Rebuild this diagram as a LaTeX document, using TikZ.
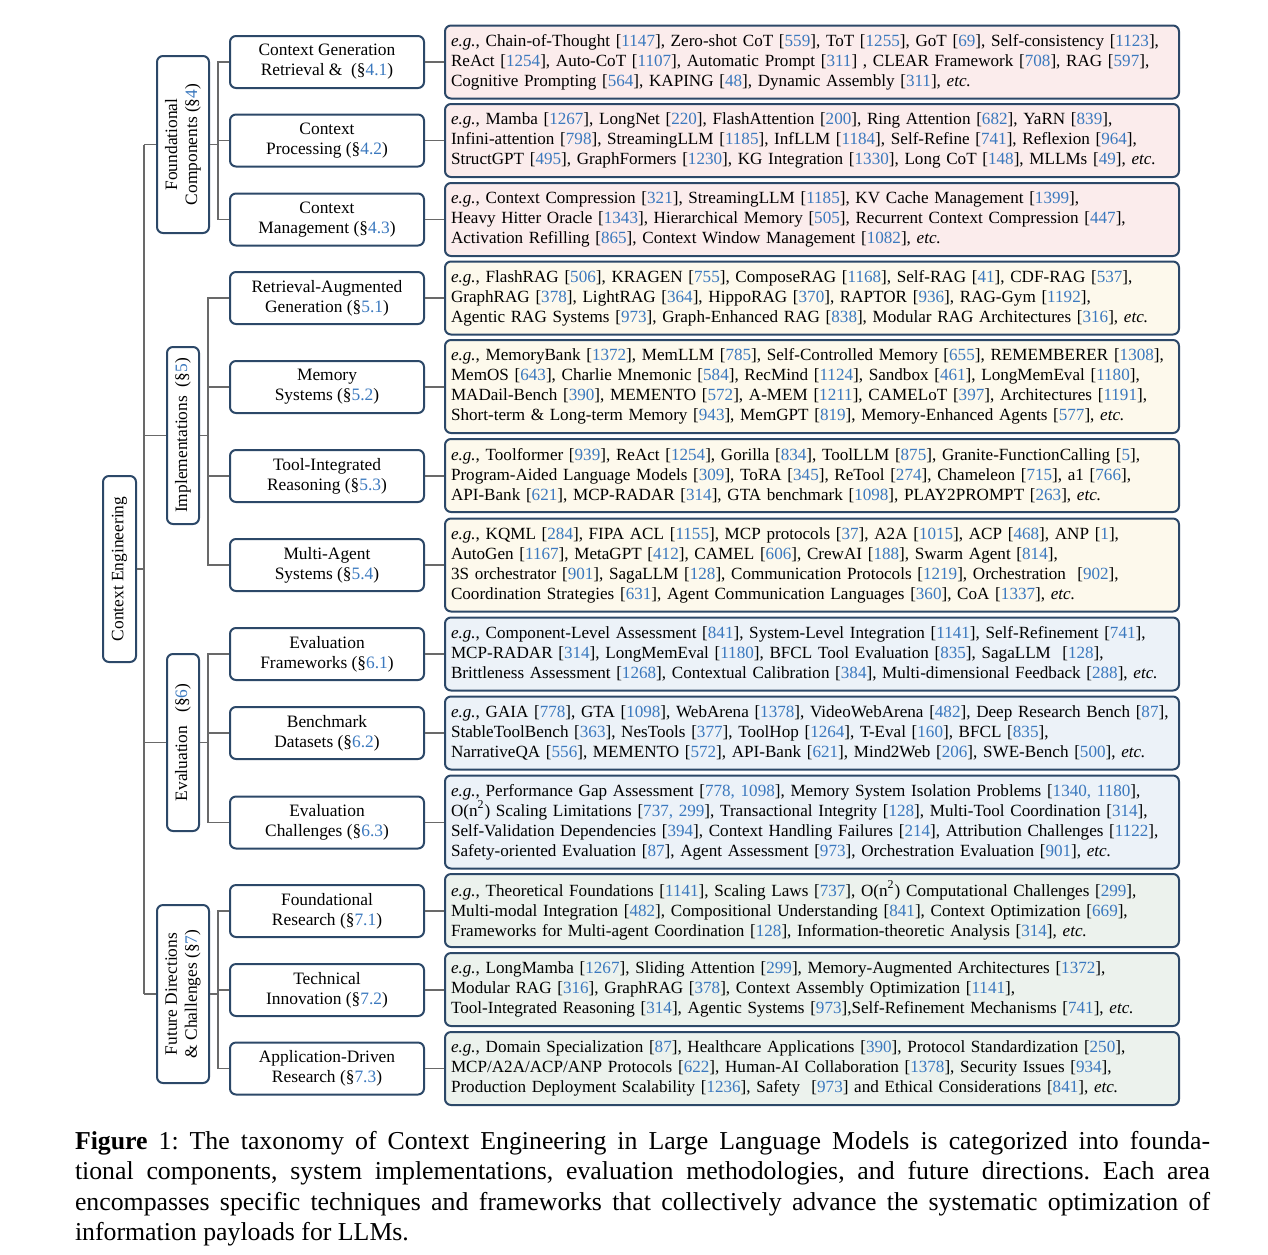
\documentclass[tikz,border=0pt]{standalone}
\usepackage{fontspec}
\setmainfont{Liberation Serif}

\definecolor{boxblue}{RGB}{44,72,104}
\definecolor{refblue}{RGB}{58,120,190}
\definecolor{linegray}{RGB}{105,105,105}
\definecolor{fillpink}{RGB}{251,236,236}
\definecolor{fillcream}{RGB}{253,249,236}
\definecolor{fillblue}{RGB}{236,242,248}
\definecolor{fillgreen}{RGB}{236,242,237}

\newcommand{\rf}[1]{[\textcolor{refblue}{#1}]}
\newcommand{\sref}[1]{(§\textcolor{refblue}{#1})}
\newcommand{\eg}{\textit{e.g.}, }
\newcommand{\etc}{\textit{etc.}}

\begin{document}
\begin{tikzpicture}[x=0.5pt, y=-0.5pt, line width=1pt,
                    txt/.style={font=\fontsize{8.7}{10}\selectfont},
                    box/.style={draw=boxblue, line width=1pt, rounded corners=3pt, fill=white, inner sep=0pt, txt},
                    cat/.style={box, rotate=90, align=center},
                    sub/.style={box, minimum width=97pt, minimum height=26pt, align=center},
                    leaf/.style={box, font=\fontsize{8.55}{10}\selectfont, text width=361pt, inner xsep=3pt,
                                 minimum height=36.5pt, align=left},
                    leaffour/.style={leaf, minimum height=46.5pt},
                    conn/.style={draw=linegray, line width=0.8pt}]

% full original canvas, caption included
\useasboundingbox (0,0) rectangle (1268,1254);

% ---- root ----
\node[cat, minimum width=93pt, minimum height=16.5pt] (root) at (119.5,569) {Context Engineering};

% ---- level 1 (rotated: north = visual left, south = visual right) ----
\node[cat, minimum width=88.5pt, minimum height=26pt] (found) at (183,144.5)
  {Foundational\\Components \sref{4}};
\node[cat, minimum width=88.5pt, minimum height=16pt] (impl) at (183,435.5)
  {Implementations~~\sref{5}};
\node[cat, minimum width=88.5pt, minimum height=16pt] (evalu) at (183,742.5)
  {Evaluation~~~\sref{6}};
\node[cat, minimum width=89pt, minimum height=26pt] (future) at (183,994)
  {Future Directions\\\& Challenges \sref{7}};

% ---- level 2 ----
\node[sub] (g41) at (327,62)   {Context Generation\\Retrieval \&~~\sref{4.1}};
\node[sub] (g42) at (327,140.5) {Context\\Processing~\sref{4.2}};
\node[sub] (g43) at (327,219.5) {Context\\Management~\sref{4.3}};
\node[sub] (g51) at (327,298)  {Retrieval-Augmented\\Generation~\sref{5.1}};
\node[sub] (g52) at (327,387)  {Memory\\Systems~\sref{5.2}};
\node[sub] (g53) at (327,476)  {Tool-Integrated\\Reasoning~\sref{5.3}};
\node[sub] (g54) at (327,565)  {Multi-Agent\\Systems~\sref{5.4}};
\node[sub] (g61) at (327,654)  {Evaluation\\Frameworks~\sref{6.1}};
\node[sub] (g62) at (327,733)  {Benchmark\\Datasets~\sref{6.2}};
\node[sub] (g63) at (327,822.5) {Evaluation\\Challenges~\sref{6.3}};
\node[sub] (g71) at (327,911)  {Foundational\\Research~\sref{7.1}};
\node[sub] (g72) at (327,990)  {Technical\\Innovation~\sref{7.2}};
\node[sub] (g73) at (327,1068.5) {Application-Driven\\Research~\sref{7.3}};

% ---- leaves: foundational components ----
\node[leaf, fill=fillpink] (l41) at (812,62) {\eg Chain-of-Thought \rf{1147}, Zero-shot CoT \rf{559}, ToT \rf{1255}, GoT \rf{69}, Self-consistency \rf{1123},\\
ReAct \rf{1254}, Auto-CoT \rf{1107}, Automatic Prompt \rf{311} , CLEAR Framework \rf{708}, RAG \rf{597},\\
Cognitive Prompting \rf{564}, KAPING \rf{48}, Dynamic Assembly \rf{311}, \etc};
\node[leaf, fill=fillpink] (l42) at (812,140.5) {\eg Mamba \rf{1267}, LongNet \rf{220}, FlashAttention \rf{200}, Ring Attention \rf{682}, YaRN \rf{839},\\
Infini-attention \rf{798}, StreamingLLM \rf{1185}, InfLLM \rf{1184}, Self-Refine \rf{741}, Reflexion \rf{964},\\
StructGPT \rf{495}, GraphFormers \rf{1230}, KG Integration \rf{1330}, Long CoT \rf{148}, MLLMs \rf{49}, \etc};
\node[leaf, fill=fillpink] (l43) at (812,219.5) {\eg Context Compression \rf{321}, StreamingLLM \rf{1185}, KV Cache Management \rf{1399},\\
Heavy Hitter Oracle \rf{1343}, Hierarchical Memory \rf{505}, Recurrent Context Compression \rf{447},\\
Activation Refilling \rf{865}, Context Window Management \rf{1082}, \etc};

% ---- leaves: implementations ----
\node[leaf, fill=fillcream] (l51) at (812,298) {\eg FlashRAG \rf{506}, KRAGEN \rf{755}, ComposeRAG \rf{1168}, Self-RAG \rf{41}, CDF-RAG \rf{537},\\
GraphRAG \rf{378}, LightRAG \rf{364}, HippoRAG \rf{370}, RAPTOR \rf{936}, RAG-Gym \rf{1192},\\
Agentic RAG Systems \rf{973}, Graph-Enhanced RAG \rf{838}, Modular RAG Architectures \rf{316}, \etc};
\node[leaffour, fill=fillcream] (l52) at (812,386.5) {\eg MemoryBank \rf{1372}, MemLLM \rf{785}, Self-Controlled Memory \rf{655}, REMEMBERER \rf{1308},\\
MemOS \rf{643}, Charlie Mnemonic \rf{584}, RecMind \rf{1124}, Sandbox \rf{461}, LongMemEval \rf{1180},\\
MADail-Bench \rf{390}, MEMENTO \rf{572}, A-MEM \rf{1211}, CAMELoT \rf{397}, Architectures \rf{1191},\\
Short-term \& Long-term Memory \rf{943}, MemGPT \rf{819}, Memory-Enhanced Agents \rf{577}, \etc};
\node[leaf, fill=fillcream] (l53) at (812,475.5) {\eg Toolformer \rf{939}, ReAct \rf{1254}, Gorilla \rf{834}, ToolLLM \rf{875}, Granite-FunctionCalling \rf{5},\\
Program-Aided Language Models \rf{309}, ToRA \rf{345}, ReTool \rf{274}, Chameleon \rf{715}, a1 \rf{766},\\
API-Bank \rf{621}, MCP-RADAR \rf{314}, GTA benchmark \rf{1098}, PLAY2PROMPT \rf{263}, \etc};
\node[leaffour, fill=fillcream] (l54) at (812,565) {\eg KQML \rf{284}, FIPA ACL \rf{1155}, MCP protocols \rf{37}, A2A \rf{1015}, ACP \rf{468}, ANP \rf{1},\\
AutoGen \rf{1167}, MetaGPT \rf{412}, CAMEL \rf{606}, CrewAI \rf{188}, Swarm Agent \rf{814},\\
3S orchestrator \rf{901}, SagaLLM \rf{128}, Communication Protocols \rf{1219}, Orchestration~~\rf{902},\\
Coordination Strategies \rf{631}, Agent Communication Languages \rf{360}, CoA \rf{1337}, \etc};

% ---- leaves: evaluation ----
\node[leaf, fill=fillblue] (l61) at (812,654) {\eg Component-Level Assessment \rf{841}, System-Level Integration \rf{1141}, Self-Refinement \rf{741},\\
MCP-RADAR \rf{314}, LongMemEval \rf{1180}, BFCL Tool Evaluation \rf{835}, SagaLLM~~\rf{128},\\
Brittleness Assessment \rf{1268}, Contextual Calibration \rf{384}, Multi-dimensional Feedback \rf{288}, \etc};
\node[leaf, fill=fillblue] (l62) at (812,733) {\eg GAIA \rf{778}, GTA \rf{1098}, WebArena \rf{1378}, VideoWebArena \rf{482}, Deep Research Bench \rf{87},\\
StableToolBench \rf{363}, NesTools \rf{377}, ToolHop \rf{1264}, T-Eval \rf{160}, BFCL \rf{835},\\
NarrativeQA \rf{556}, MEMENTO \rf{572}, API-Bank \rf{621}, Mind2Web \rf{206}, SWE-Bench \rf{500}, \etc};
\node[leaffour, fill=fillblue] (l63) at (812,822) {\eg Performance Gap Assessment \rf{778, 1098}, Memory System Isolation Problems \rf{1340, 1180},\\
O(n\textsuperscript{2}) Scaling Limitations \rf{737, 299}, Transactional Integrity \rf{128}, Multi-Tool Coordination \rf{314},\\
Self-Validation Dependencies \rf{394}, Context Handling Failures \rf{214}, Attribution Challenges \rf{1122},\\
Safety-oriented Evaluation \rf{87}, Agent Assessment \rf{973}, Orchestration Evaluation \rf{901}, \etc};

% ---- leaves: future directions ----
\node[leaf, fill=fillgreen] (l71) at (812,910.5) {\eg Theoretical Foundations \rf{1141}, Scaling Laws \rf{737}, O(n\textsuperscript{2}) Computational Challenges \rf{299},\\
Multi-modal Integration \rf{482}, Compositional Understanding \rf{841}, Context Optimization \rf{669},\\
Frameworks for Multi-agent Coordination \rf{128}, Information-theoretic Analysis \rf{314}, \etc};
\node[leaf, fill=fillgreen] (l72) at (812,989.5) {\eg LongMamba \rf{1267}, Sliding Attention \rf{299}, Memory-Augmented Architectures \rf{1372},\\
Modular RAG \rf{316}, GraphRAG \rf{378}, Context Assembly Optimization \rf{1141},\\
Tool-Integrated Reasoning \rf{314}, Agentic Systems \rf{973},Self-Refinement Mechanisms \rf{741}, \etc};
\node[leaf, fill=fillgreen] (l73) at (812,1068.5) {\eg Domain Specialization \rf{87}, Healthcare Applications \rf{390}, Protocol Standardization \rf{250},\\
MCP/A2A/ACP/ANP Protocols \rf{622}, Human-AI Collaboration \rf{1378}, Security Issues \rf{934},\\
Production Deployment Scalability \rf{1236}, Safety~~\rf{973} and Ethical Considerations \rf{841}, \etc};

% ---- connectors ----
\coordinate (trunk) at (144,0);
\coordinate (bus4) at (218,0);
\coordinate (bus5) at (208,0);
\coordinate (bus6) at (208,0);
\coordinate (bus7) at (218,0);

\draw[conn] (root.south) -- (root.south -| trunk);
\draw[conn] (found.north -| trunk) -- (future.north -| trunk);
\foreach \c in {found,impl,evalu,future}
  \draw[conn] (\c.north -| trunk) -- (\c.north);

\draw[conn] (found.south) -- (found.south -| bus4);
\draw[conn] (g41.west) -- (g41.west -| bus4) -- (g43.west -| bus4) -- (g43.west);
\draw[conn] (g42.west) -- (g42.west -| bus4);

\draw[conn] (impl.south) -- (impl.south -| bus5);
\draw[conn] (g51.west) -- (g51.west -| bus5) -- (g54.west -| bus5) -- (g54.west);
\draw[conn] (g52.west) -- (g52.west -| bus5)  (g53.west) -- (g53.west -| bus5);

\draw[conn] (evalu.south) -- (evalu.south -| bus6);
\draw[conn] (g61.west) -- (g61.west -| bus6) -- (g63.west -| bus6) -- (g63.west);
\draw[conn] (g62.west) -- (g62.west -| bus6);

\draw[conn] (future.south) -- (future.south -| bus7);
\draw[conn] (g71.west) -- (g71.west -| bus7) -- (g73.west -| bus7) -- (g73.west);
\draw[conn] (g72.west) -- (g72.west -| bus7);

% level 2 -> leaves, straight across
\foreach \n in {41,42,43,51,52,53,54,61,62,63,71,72,73}
  \draw[conn] (g\n.east) -- (g\n.east -| l\n.west);

% ---- caption ----
\node[text width=567.5pt, align=justify, inner sep=0pt, font=\fontsize{12.9}{15.2}\selectfont\frenchspacing] (cap) at (642.5,1188.5)
  {\textbf{Figure} 1: The taxonomy of Context Engineering in Large Language Models is categorized into founda-\linebreak
   tional components, system implementations, evaluation methodologies, and future directions. Each area\linebreak
   encompasses specific techniques and frameworks that collectively advance the systematic optimization of\linebreak
   information payloads for LLMs.};

\end{tikzpicture}
\end{document}
